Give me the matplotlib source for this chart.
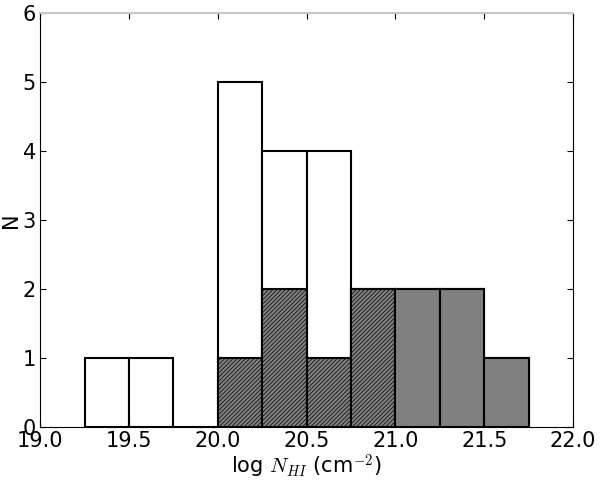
import numpy as np
import matplotlib
matplotlib.use('Agg')
import matplotlib.pyplot as plt

plt.rcParams['mathtext.fontset'] = 'cm'
plt.rcParams['hatch.linewidth'] = 0.5

# bordes izquierdos de los bins (ancho 0.25)
bin_edges = [19.25, 19.5, 19.75, 20.0, 20.25, 20.5, 20.75, 21.0, 21.25, 21.5]
n_total = [1, 1, 0, 5, 4, 4, 2, 2, 2, 1]
n_hatched = [0, 0, 0, 1, 2, 1, 2, 0, 0, 0]
n_solid = [0, 0, 0, 0, 0, 0, 0, 2, 2, 1]
bin_width = 0.25

fig = plt.figure(figsize=(6, 4.8), dpi=100)
ax = fig.add_axes([0.067, 0.11, 0.888, 0.863])

ax.bar(bin_edges, n_total, width=bin_width, align='edge',
       facecolor='white', edgecolor='black', linewidth=1.5)
hb = [(x, h) for x, h in zip(bin_edges, n_hatched) if h > 0]
ax.bar([x for x, h in hb], [h for x, h in hb], width=bin_width, align='edge',
       facecolor='#808080', edgecolor='black', linewidth=1.5, hatch='////////')
sb = [(x, h) for x, h in zip(bin_edges, n_solid) if h > 0]
ax.bar([x for x, h in sb], [h for x, h in sb], width=bin_width, align='edge',
       facecolor='#808080', edgecolor='black', linewidth=1.5)

ax.set_xlim(19.0, 22.0)
ax.set_ylim(0, 6)
ax.set_xticks(np.arange(19.0, 22.01, 0.5))
ax.set_xticklabels(['%.1f' % v for v in np.arange(19.0, 22.01, 0.5)])
ax.set_yticks(range(0, 7))
ax.tick_params(direction='in', top=True, right=True, labelsize=15,
               length=4, width=0.8, pad=3)
ax.spines['top'].set_color('#c8c8c8')
ax.spines['top'].set_linewidth(1.5)

ax.set_xlabel(r'log $N_{HI}$ (cm$^{-2}$)', fontsize=15, labelpad=1)
ax.set_ylabel('N', fontsize=15, labelpad=1)

plt.savefig('out.png', dpi=100)
